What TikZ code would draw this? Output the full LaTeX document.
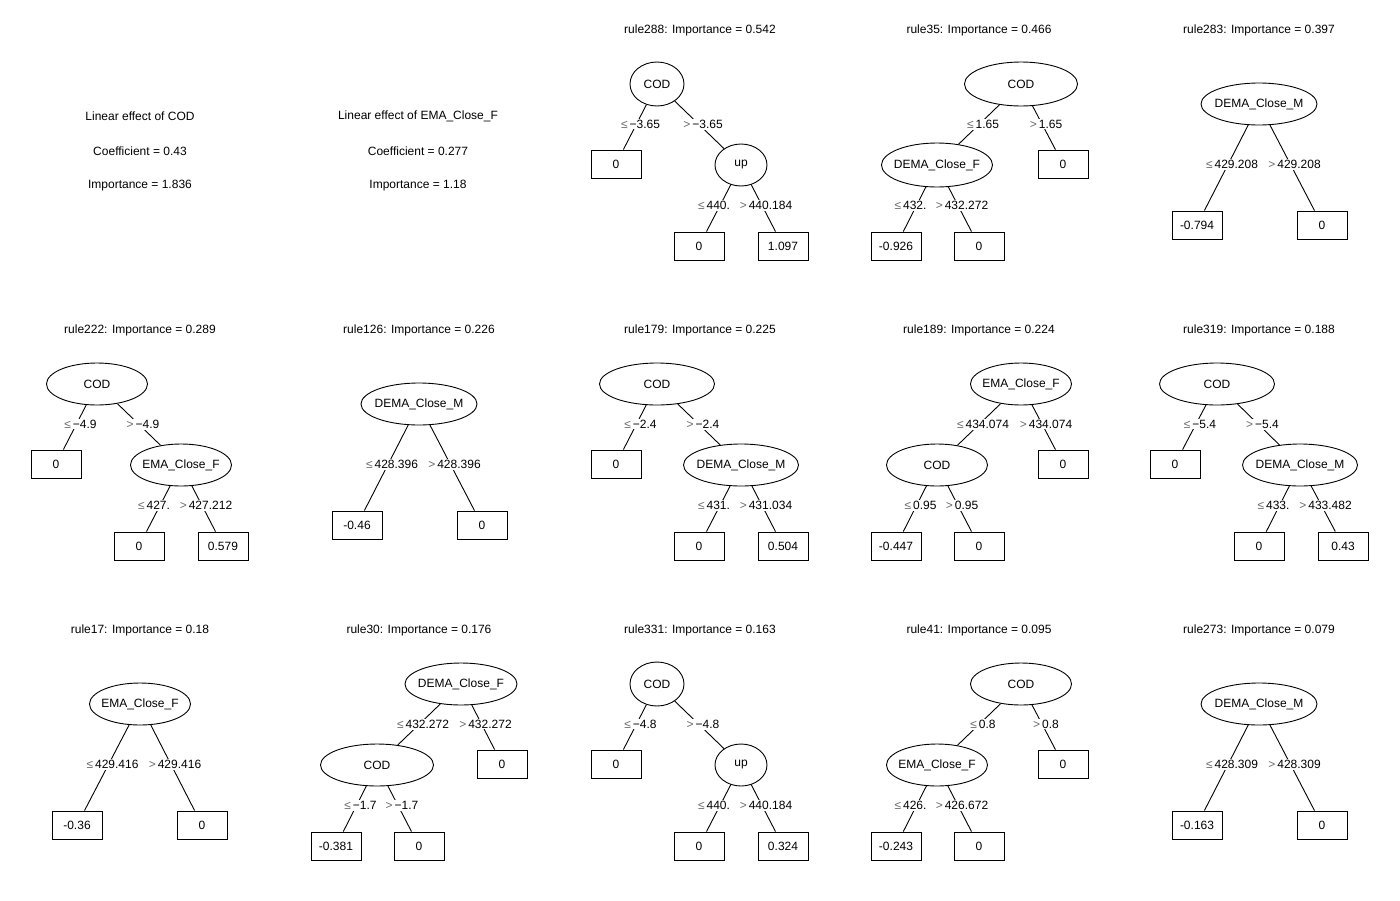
\documentclass[tikz,border=0pt]{standalone}
\usepackage{fontspec}
\setmainfont{Liberation Sans}
\usetikzlibrary{shapes.geometric,calc}
\definecolor{symgray}{gray}{0.42}
\newcommand\LEs{{\color{symgray}≤}\,}
\newcommand\GTs{{\color{symgray}>}\,}
\newcommand\edg[3]{\draw (#1) -- (#2); \node[lbl] at ($(#1.center)!0.5!(#2.center)$) {#3};}
\newcommand\edgx[4]{\draw (#1) -- (#2); \node[lbl, xshift=#4] at ($(#1.center)!0.5!(#2.center)$) {#3};}
\begin{document}
\begin{tikzpicture}[x=1pt,y=-1pt, font=\fontsize{12}{14}\selectfont, line width=0.9pt,
  inner/.style={draw, ellipse, inner xsep=-8pt, inner ysep=0pt, minimum height=42},
  leaf/.style={draw, rectangle, minimum width=50, minimum height=28, inner sep=0pt},
  lbl/.style={fill=white, inner sep=1pt, xshift=4pt},
  ttl/.style={inner sep=0pt}]
\useasboundingbox (0,0) rectangle (1400,900);

% ---------------- Row 1 ----------------
\node[ttl] (lin1a) at (140,116.5) {Linear effect of COD};
\node[ttl] (lin1b) at (140,151) {Coefficient = 0.43};
\node[ttl] (lin1c) at (140,186) {Importance = 1.836};
\node[ttl] (lin2a) at (418,116.5) {Linear effect of EMA\_Close\_F};
\node[ttl] (lin2b) at (418,151) {Coefficient = 0.277};
\node[ttl] (lin2c) at (418,186) {Importance = 1.18};

% rule288
\begin{scope}[shift={(700,29)}]
\node[ttl] (t3) at (0,1) {rule288: Importance = 0.542};
\node[inner, minimum width=54, minimum height=44] (t3a) at (-43,55) {COD};
\node[leaf] (t3b) at (-84,135) {0};
\node[inner, minimum width=52] (t3c) at (41,136) {up};
\node[leaf] (t3d) at (-1,217) {0};
\node[leaf] (t3e) at (83,217) {1.097};
\edg{t3a}{t3b}{\LEs−3.65}
\edg{t3a}{t3c}{\GTs−3.65}
\edgx{t3c}{t3d}{\LEs440.}{-10pt}
\edg{t3c}{t3e}{\GTs440.184}
\end{scope}

% rule35
\begin{scope}[shift={(979,29)}]
\node[ttl] (t4) at (0,1) {rule35: Importance = 0.466};
\node[inner, minimum width=113, minimum height=44] (t4a) at (42,55) {COD};
\node[inner, minimum width=111, minimum height=44] (t4c) at (-42,136) {DEMA\_Close\_F};
\node[leaf] (t4b) at (84,135) {0};
\node[leaf] (t4d) at (-83,217) {-0.926};
\node[leaf] (t4e) at (0,217) {0};
\edg{t4a}{t4c}{\LEs1.65}
\edg{t4a}{t4b}{\GTs1.65}
\edgx{t4c}{t4d}{\LEs432.}{-10pt}
\edg{t4c}{t4e}{\GTs432.272}
\end{scope}

% rule283
\begin{scope}[shift={(1259,29)}]
\node[ttl] (t5) at (0,1) {rule283: Importance = 0.397};
\node[inner, minimum width=116] (t5a) at (0,75) {DEMA\_Close\_M};
\node[leaf] (t5b) at (-62,196) {-0.794};
\node[leaf] (t5c) at (63,196) {0};
\edg{t5a}{t5b}{\LEs429.208}
\edg{t5a}{t5c}{\GTs429.208}
\end{scope}

% ---------------- Row 2 ----------------
% rule222
\begin{scope}[shift={(140,329)}]
\node[ttl] (t6) at (0,1) {rule222: Importance = 0.289};
\node[inner, minimum width=101] (t6a) at (-43,55) {COD};
\node[leaf] (t6b) at (-84,135) {0};
\node[inner, minimum width=101] (t6c) at (41,136) {EMA\_Close\_F};
\node[leaf] (t6d) at (-1,217) {0};
\node[leaf] (t6e) at (83,217) {0.579};
\edg{t6a}{t6b}{\LEs−4.9}
\edg{t6a}{t6c}{\GTs−4.9}
\edgx{t6c}{t6d}{\LEs427.}{-10pt}
\edg{t6c}{t6e}{\GTs427.212}
\end{scope}

% rule126
\begin{scope}[shift={(419,329)}]
\node[ttl] (t7) at (0,1) {rule126: Importance = 0.226};
\node[inner, minimum width=116] (t7a) at (0,75) {DEMA\_Close\_M};
\node[leaf] (t7b) at (-62,196) {-0.46};
\node[leaf] (t7c) at (63,196) {0};
\edg{t7a}{t7b}{\LEs428.396}
\edg{t7a}{t7c}{\GTs428.396}
\end{scope}

% rule179
\begin{scope}[shift={(700,329)}]
\node[ttl] (t8) at (0,1) {rule179: Importance = 0.225};
\node[inner, minimum width=115] (t8a) at (-43,55) {COD};
\node[leaf] (t8b) at (-84,135) {0};
\node[inner, minimum width=115] (t8c) at (41,136) {DEMA\_Close\_M};
\node[leaf] (t8d) at (-1,217) {0};
\node[leaf] (t8e) at (83,217) {0.504};
\edg{t8a}{t8b}{\LEs−2.4}
\edg{t8a}{t8c}{\GTs−2.4}
\edgx{t8c}{t8d}{\LEs431.}{-10pt}
\edg{t8c}{t8e}{\GTs431.034}
\end{scope}

% rule189
\begin{scope}[shift={(979,329)}]
\node[ttl] (t9) at (0,1) {rule189: Importance = 0.224};
\node[inner, minimum width=101] (t9a) at (42,55) {EMA\_Close\_F};
\node[inner, minimum width=101] (t9c) at (-42,136) {COD};
\node[leaf] (t9b) at (84,135) {0};
\node[leaf] (t9d) at (-83,217) {-0.447};
\node[leaf] (t9e) at (0,217) {0};
\edg{t9a}{t9c}{\LEs434.074}
\edg{t9a}{t9b}{\GTs434.074}
\edg{t9c}{t9d}{\LEs0.95}
\edg{t9c}{t9e}{\GTs0.95}
\end{scope}

% rule319
\begin{scope}[shift={(1259,329)}]
\node[ttl] (t10) at (0,1) {rule319: Importance = 0.188};
\node[inner, minimum width=115] (t10a) at (-42,55) {COD};
\node[leaf] (t10b) at (-84,135) {0};
\node[inner, minimum width=115] (t10c) at (41,136) {DEMA\_Close\_M};
\node[leaf] (t10d) at (0,217) {0};
\node[leaf] (t10e) at (84,217) {0.43};
\edg{t10a}{t10b}{\LEs−5.4}
\edg{t10a}{t10c}{\GTs−5.4}
\edgx{t10c}{t10d}{\LEs433.}{-10pt}
\edg{t10c}{t10e}{\GTs433.482}
\end{scope}

% ---------------- Row 3 ----------------
% rule17
\begin{scope}[shift={(140,629)}]
\node[ttl] (t11) at (0,1) {rule17: Importance = 0.18};
\node[inner, minimum width=101] (t11a) at (0,75) {EMA\_Close\_F};
\node[leaf] (t11b) at (-63,196) {-0.36};
\node[leaf] (t11c) at (62,196) {0};
\edg{t11a}{t11b}{\LEs429.416}
\edg{t11a}{t11c}{\GTs429.416}
\end{scope}

% rule30
\begin{scope}[shift={(419,629)}]
\node[ttl] (t12) at (0,1) {rule30: Importance = 0.176};
\node[inner, minimum width=112] (t12a) at (42,55) {DEMA\_Close\_F};
\node[inner, minimum width=113] (t12c) at (-42,136) {COD};
\node[leaf] (t12b) at (83,135) {0};
\node[leaf] (t12d) at (-83,217) {-0.381};
\node[leaf] (t12e) at (0,217) {0};
\edg{t12a}{t12c}{\LEs432.272}
\edg{t12a}{t12b}{\GTs432.272}
\edg{t12c}{t12d}{\LEs−1.7}
\edg{t12c}{t12e}{\GTs−1.7}
\end{scope}

% rule331
\begin{scope}[shift={(700,629)}]
\node[ttl] (t13) at (0,1) {rule331: Importance = 0.163};
\node[inner, minimum width=54, minimum height=44] (t13a) at (-43,55) {COD};
\node[leaf] (t13b) at (-84,135) {0};
\node[inner, minimum width=52] (t13c) at (41,136) {up};
\node[leaf] (t13d) at (-1,217) {0};
\node[leaf] (t13e) at (83,217) {0.324};
\edg{t13a}{t13b}{\LEs−4.8}
\edg{t13a}{t13c}{\GTs−4.8}
\edgx{t13c}{t13d}{\LEs440.}{-10pt}
\edg{t13c}{t13e}{\GTs440.184}
\end{scope}

% rule41
\begin{scope}[shift={(979,629)}]
\node[ttl] (t14) at (0,1) {rule41: Importance = 0.095};
\node[inner, minimum width=101] (t14a) at (42,55) {COD};
\node[inner, minimum width=101] (t14c) at (-42,136) {EMA\_Close\_F};
\node[leaf] (t14b) at (84,135) {0};
\node[leaf] (t14d) at (-83,217) {-0.243};
\node[leaf] (t14e) at (0,217) {0};
\edg{t14a}{t14c}{\LEs0.8}
\edg{t14a}{t14b}{\GTs0.8}
\edgx{t14c}{t14d}{\LEs426.}{-10pt}
\edg{t14c}{t14e}{\GTs426.672}
\end{scope}

% rule273
\begin{scope}[shift={(1259,629)}]
\node[ttl] (t15) at (0,1) {rule273: Importance = 0.079};
\node[inner, minimum width=116] (t15a) at (0,75) {DEMA\_Close\_M};
\node[leaf] (t15b) at (-62,196) {-0.163};
\node[leaf] (t15c) at (63,196) {0};
\edg{t15a}{t15b}{\LEs428.309}
\edg{t15a}{t15c}{\GTs428.309}
\end{scope}
\end{tikzpicture}
\end{document}
